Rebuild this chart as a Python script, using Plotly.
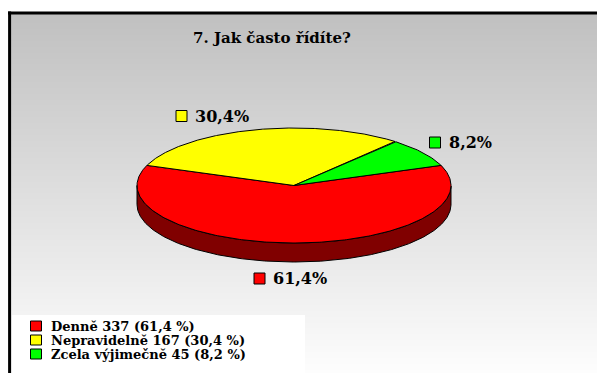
import numpy as np
import plotly.graph_objects as go

# ---- data -------------------------------------------------------------
title_text = "7. Jak často řídíte?"
categories = ["Denně", "Nepravidelně", "Zcela výjimečně"]
counts = [337, 167, 45]
slice_colors = ["#FF0000", "#FFFF00", "#00FF00"]
side_colors = ["#800000", "#808000", "#008000"]

# ---- layout constants (pixel space) ------------------------------------
W, H = 597, 373
CX, CY, RX, RY, DEPTH = 294, 185.5, 157, 57.5, 19
START_ANGLE = 20.5          # degrees, slices run clockwise from here
FONT = "DejaVu Serif"

# label anchors (key square centre) around the pie, per category
label_pos = [(259.5, 278.5), (181.5, 116.0), (435.0, 142.5)]
legend_x, legend_y0, legend_dy = 36, 326, 14

total = sum(counts)
shares = [c / total for c in counts]
pct_txt = [f"{s * 100:.1f}".replace(".", ",") for s in shares]


def ell(t_deg, dy=0.0):
    t = np.radians(t_deg)
    return CX + RX * np.cos(t), CY - RY * np.sin(t) + dy


fig = go.Figure()

# background: vertical grey-to-white gradient
y_edges = np.arange(14, H + 1, 1.0)
rows = len(y_edges) - 1
g = np.linspace(192, 253, rows)
fig.add_trace(go.Heatmap(
    x=[11, W], y=y_edges, z=[[v] for v in g],
    colorscale=[[0, "rgb(192,192,192)"], [1, "rgb(253,253,253)"]],
    zmin=192, zmax=253, showscale=False, hoverinfo="skip"))

# slice angle ranges (clockwise)
ranges = []
a = START_ANGLE
for s in shares:
    span = s * 360
    ranges.append((a - span, a))
    a -= span

# side walls (front half only)
for (e, s), col in zip(ranges, side_colors):
    t = np.linspace(e, s, 400)
    front = np.sin(np.radians(t)) <= 1e-9
    if not front.any():
        continue
    idx = np.where(front)[0]
    runs = np.split(idx, np.where(np.diff(idx) != 1)[0] + 1)
    for r in runs:
        tt = t[r]
        xt, yt = ell(tt)
        xb, yb = ell(tt[::-1], DEPTH)
        fig.add_trace(go.Scatter(
            x=np.concatenate([xt, xb, xt[:1]]),
            y=np.concatenate([yt, yb, yt[:1]]),
            mode="lines", fill="toself", fillcolor=col,
            line=dict(color="black", width=1), hoverinfo="skip",
            showlegend=False))

# top faces
for (e, s), col, name in zip(ranges, slice_colors, categories):
    t = np.linspace(s, e, 300)
    xs, ys = ell(t)
    fig.add_trace(go.Scatter(
        x=np.concatenate([[CX], xs, [CX]]),
        y=np.concatenate([[CY], ys, [CY]]),
        mode="lines", fill="toself", fillcolor=col,
        line=dict(color="black", width=1), name=name,
        showlegend=False, hoverinfo="skip"))

shapes = []
annotations = []

# frame
shapes.append(dict(type="line", x0=8, x1=W, y0=13, y1=13,
                   line=dict(color="black", width=3)))
shapes.append(dict(type="line", x0=9.6, x1=9.6, y0=11.5, y1=H,
                   line=dict(color="black", width=3)))

# legend box
shapes.append(dict(type="rect", x0=12, x1=305, y0=315, y1=H + 2,
                   fillcolor="white", line=dict(width=0)))

KEY = 11
for i, (cat, cnt, col, pct) in enumerate(zip(categories, counts, slice_colors, pct_txt)):
    # data label next to the slice
    lx, ly = label_pos[i]
    shapes.append(dict(type="rect", x0=lx - KEY / 2, x1=lx + KEY / 2,
                       y0=ly - KEY / 2, y1=ly + KEY / 2, fillcolor=col,
                       line=dict(color="black", width=1)))
    annotations.append(dict(x=lx + KEY / 2 + 6, y=ly, text=f"{pct}%",
                            xanchor="left", yanchor="middle", showarrow=False,
                            font=dict(family=FONT, size=16, color="black", weight="bold")))
    # legend entry
    gy = legend_y0 + i * legend_dy
    shapes.append(dict(type="rect", x0=legend_x - KEY / 2, x1=legend_x + KEY / 2,
                       y0=gy - KEY / 2 + 0.5, y1=gy + KEY / 2 - 0.5, fillcolor=col,
                       line=dict(color="black", width=1)))
    annotations.append(dict(x=legend_x + KEY / 2 + 7, y=gy,
                            text=f"{cat} {cnt} ({pct} %)",
                            xanchor="left", yanchor="middle", showarrow=False,
                            font=dict(family=FONT, size=13, color="black", weight="bold")))

annotations.append(dict(x=272, y=38, text=title_text, xanchor="center",
                        yanchor="middle", showarrow=False,
                        font=dict(family=FONT, size=15, color="black", weight="bold")))

fig.update_layout(
    width=W, height=H, margin=dict(l=0, r=0, t=0, b=0, pad=0),
    paper_bgcolor="white", plot_bgcolor="white",
    xaxis=dict(range=[0, W], visible=False, fixedrange=True),
    yaxis=dict(range=[H, 0], visible=False, fixedrange=True),
    shapes=shapes, annotations=annotations, showlegend=False,
)

fig.write_html("out.html")
